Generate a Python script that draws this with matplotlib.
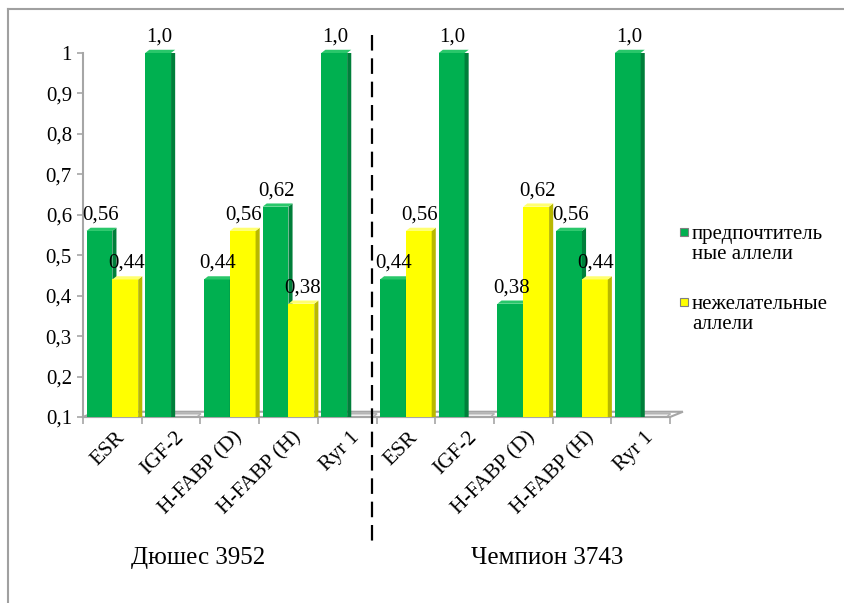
import numpy as np
import matplotlib.pyplot as plt
from matplotlib.patches import Polygon, Rectangle
from matplotlib.lines import Line2D

plt.rcParams['font.family'] = 'serif'
plt.rcParams['font.serif'] = ['Liberation Serif', 'FreeSerif', 'DejaVu Serif']

genes = ['ESR', 'IGF-2', 'H-FABP (D)', 'H-FABP (H)', 'Ryr 1']
breeds = ['Дюшес 3952', 'Чемпион 3743']
tick_labels = genes + genes
preferred = [0.56, 1.0, 0.44, 0.62, 1.0, 0.44, 1.0, 0.38, 0.56, 1.0]
unwanted = [0.44, 0.0, 0.56, 0.38, 0.0, 0.56, 0.0, 0.62, 0.44, 0.0]
series_names = ['предпочтитель\nные аллели', 'нежелательные\nаллели']
yticks = [0.1, 0.2, 0.3, 0.4, 0.5, 0.6, 0.7, 0.8, 0.9, 1.0]

green = ('#00b050', '#007f3a', '#29c76a')
yellow = ('#ffff00', '#b8b800', '#ffff70')

fig = plt.figure(figsize=(8.44, 6.03), dpi=100)
ax = fig.add_axes([83 / 844, 1 - 417 / 603, (670 - 83) / 844, (417 - 53) / 603])
ax.set_xlim(-0.5, 9.5)
ax.set_ylim(0.1, 1.0)

# depth of the fake 3D extrusion, in data units
DX, DY = 0.07, 0.008
W = 0.44
x = np.arange(len(tick_labels))

# floor
ax.add_patch(Polygon([(-0.5, 0.1), (9.5, 0.1), (9.5 + 0.22, 0.1 + 0.013),
                      (-0.5 + 0.22, 0.1 + 0.013)], closed=True,
                     facecolor='white', edgecolor='#a6a6a6', lw=1.5,
                     clip_on=False, zorder=1))


def bars3d(xs, vals, cols):
    front, side, top = cols
    for xc, v in zip(xs, vals):
        x0, x1 = xc - W / 2, xc + W / 2
        if v <= 0:
            # empty bar: only its flat lid on the floor
            ax.add_patch(Polygon([(x0, 0.1), (x1, 0.1), (x1 + DX, 0.1 + DY), (x0 + DX, 0.1 + DY)],
                                 closed=True, facecolor='#f4f4f4', edgecolor='#b0b0b0',
                                 lw=1, clip_on=False, zorder=2))
            continue
        ax.bar(xc, v, W, color=front, edgecolor='none', zorder=3)
        ax.add_patch(Polygon([(x1, 0), (x1 + DX, DY), (x1 + DX, v + DY), (x1, v)],
                             closed=True, facecolor=side, edgecolor='none', zorder=3))
        ax.add_patch(Polygon([(x0, v), (x1, v), (x1 + DX, v + DY), (x0 + DX, v + DY)],
                             closed=True, facecolor=top, edgecolor='none', zorder=3,
                             clip_on=False))
        txt = '1,0' if v == 1.0 else f'{v:.2f}'.replace('.', ',')
        ax.annotate(txt, (xc + DX / 4, v + DY), xytext=(0, 6), textcoords='offset points',
                    ha='center', va='baseline', fontsize=15, zorder=5,
                    annotation_clip=False)


bars3d(x - 0.22, preferred, green)
bars3d(x + 0.22, unwanted, yellow)

for s in ['top', 'right', 'bottom']:
    ax.spines[s].set_visible(False)
ax.spines['left'].set_color('#a6a6a6')
ax.spines['left'].set_linewidth(1.5)

ax.set_yticks(yticks)
ax.set_yticklabels(['1' if t == 1.0 else f'{t:.1f}'.replace('.', ',') for t in yticks],
                   fontsize=15)
ax.tick_params(axis='y', length=4, color='#a6a6a6', width=1.2, pad=4)

ax.set_xticks(np.arange(-0.5, 10.5, 1.0), minor=False)
ax.set_xticklabels([])
ax.tick_params(axis='x', length=5, color='#a6a6a6', width=1.2)
ax.plot([-0.5, 9.5], [0.1, 0.1], color='#a6a6a6', lw=1.5, clip_on=False, zorder=2)
for xc, lab in zip(x, tick_labels):
    ax.annotate(lab, (xc + 0.05, 0.1), xytext=(0, -8), textcoords='offset points',
                ha='right', va='top', rotation=45, rotation_mode='anchor',
                fontsize=15.5, annotation_clip=False)

# breed captions under each half
for i, b in enumerate(breeds):
    fig.text((198 if i == 0 else 547) / 844, 1 - 558 / 603, b, ha='center', va='center',
             fontsize=18)

# separator between the two breeds
fig.add_artist(Line2D([372 / 844, 372 / 844], [1 - 35 / 603, 1 - 545 / 603],
                      color='black', lw=1.6, dashes=(7, 3.5)))

# legend
for i, (name, cols) in enumerate(zip(series_names, [green, yellow])):
    ytop = 228 + i * 70
    fig.add_artist(Rectangle((680 / 844, 1 - (ytop + 8) / 603), 8 / 844, 8 / 603,
                             facecolor=cols[0], edgecolor='#7f7f7f', lw=0.8))
    fig.text(692 / 844, 1 - (ytop - 3) / 603, name, ha='left', va='top', fontsize=15,
             linespacing=1.05)

# outer frame
fig.add_artist(Line2D([8 / 844, 8 / 844], [0, 1 - 9 / 603], color='#a0a0a0', lw=1.5))
fig.add_artist(Line2D([8 / 844, 1], [1 - 9 / 603, 1 - 9 / 603], color='#a0a0a0', lw=1.5))

fig.savefig('out.png', dpi=100)
